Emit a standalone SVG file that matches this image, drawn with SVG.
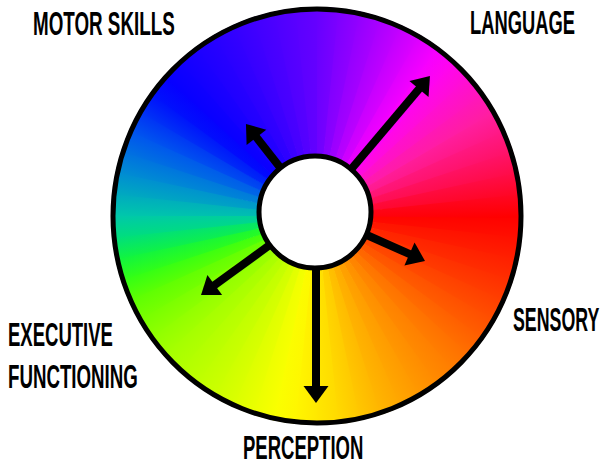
<svg xmlns="http://www.w3.org/2000/svg" width="605" height="467" viewBox="0 0 605 467">
<style>
.lbl{font-family:"Liberation Sans",Arial,sans-serif;font-weight:bold;font-size:33px;fill:#000}
.arr{stroke:#000;stroke-width:8;fill:none;marker-end:url(#ah)}
</style>
<defs>
<path id="w" d="M0,0L209,0A209,209 0 0 1 207.61,24.02Z"/>
<linearGradient id="b" gradientUnits="userSpaceOnUse" x1="209" y1="0" x2="207.85" y2="21.85"/>
<linearGradient id="g0" href="#b"><stop stop-color="#ff0000"/><stop offset="1" stop-color="#ff0f00"/></linearGradient>
<linearGradient id="g1" href="#b"><stop stop-color="#ff0f00"/><stop offset="1" stop-color="#ff1f00"/></linearGradient>
<linearGradient id="g2" href="#b"><stop stop-color="#ff1f00"/><stop offset="1" stop-color="#ff2e00"/></linearGradient>
<linearGradient id="g3" href="#b"><stop stop-color="#ff2e00"/><stop offset="1" stop-color="#ff3e00"/></linearGradient>
<linearGradient id="g4" href="#b"><stop stop-color="#ff3e00"/><stop offset="1" stop-color="#ff4e00"/></linearGradient>
<linearGradient id="g5" href="#b"><stop stop-color="#ff4e00"/><stop offset="1" stop-color="#ff5e00"/></linearGradient>
<linearGradient id="g6" href="#b"><stop stop-color="#ff5e00"/><stop offset="1" stop-color="#ff6f00"/></linearGradient>
<linearGradient id="g7" href="#b"><stop stop-color="#ff6f00"/><stop offset="1" stop-color="#ff7e00"/></linearGradient>
<linearGradient id="g8" href="#b"><stop stop-color="#ff7e00"/><stop offset="1" stop-color="#ff8b00"/></linearGradient>
<linearGradient id="g9" href="#b"><stop stop-color="#ff8b00"/><stop offset="1" stop-color="#ff9900"/></linearGradient>
<linearGradient id="g10" href="#b"><stop stop-color="#ff9900"/><stop offset="1" stop-color="#ffa700"/></linearGradient>
<linearGradient id="g11" href="#b"><stop stop-color="#ffa700"/><stop offset="1" stop-color="#ffb600"/></linearGradient>
<linearGradient id="g12" href="#b"><stop stop-color="#ffb600"/><stop offset="1" stop-color="#ffc800"/></linearGradient>
<linearGradient id="g13" href="#b"><stop stop-color="#ffc800"/><stop offset="1" stop-color="#ffda00"/></linearGradient>
<linearGradient id="g14" href="#b"><stop stop-color="#ffda00"/><stop offset="1" stop-color="#ffe800"/></linearGradient>
<linearGradient id="g15" href="#b"><stop stop-color="#ffe800"/><stop offset="1" stop-color="#fff600"/></linearGradient>
<linearGradient id="g16" href="#b"><stop stop-color="#fff600"/><stop offset="1" stop-color="#faff00"/></linearGradient>
<linearGradient id="g17" href="#b"><stop stop-color="#faff00"/><stop offset="1" stop-color="#ebff00"/></linearGradient>
<linearGradient id="g18" href="#b"><stop stop-color="#ebff00"/><stop offset="1" stop-color="#dbff00"/></linearGradient>
<linearGradient id="g19" href="#b"><stop stop-color="#dbff00"/><stop offset="1" stop-color="#ccff00"/></linearGradient>
<linearGradient id="g20" href="#b"><stop stop-color="#ccff00"/><stop offset="1" stop-color="#bfff00"/></linearGradient>
<linearGradient id="g21" href="#b"><stop stop-color="#bfff00"/><stop offset="1" stop-color="#b2ff00"/></linearGradient>
<linearGradient id="g22" href="#b"><stop stop-color="#b2ff00"/><stop offset="1" stop-color="#a4ff00"/></linearGradient>
<linearGradient id="g23" href="#b"><stop stop-color="#a4ff00"/><stop offset="1" stop-color="#90ff00"/></linearGradient>
<linearGradient id="g24" href="#b"><stop stop-color="#90ff00"/><stop offset="1" stop-color="#78ff00"/></linearGradient>
<linearGradient id="g25" href="#b"><stop stop-color="#78ff00"/><stop offset="1" stop-color="#5dff03"/></linearGradient>
<linearGradient id="g26" href="#b"><stop stop-color="#5dff03"/><stop offset="1" stop-color="#33ff15"/></linearGradient>
<linearGradient id="g27" href="#b"><stop stop-color="#33ff15"/><stop offset="1" stop-color="#11f440"/></linearGradient>
<linearGradient id="g28" href="#b"><stop stop-color="#11f440"/><stop offset="1" stop-color="#00de7d"/></linearGradient>
<linearGradient id="g29" href="#b"><stop stop-color="#00de7d"/><stop offset="1" stop-color="#00c8aa"/></linearGradient>
<linearGradient id="g30" href="#b"><stop stop-color="#00c8aa"/><stop offset="1" stop-color="#00aabf"/></linearGradient>
<linearGradient id="g31" href="#b"><stop stop-color="#00aabf"/><stop offset="1" stop-color="#008dd2"/></linearGradient>
<linearGradient id="g32" href="#b"><stop stop-color="#008dd2"/><stop offset="1" stop-color="#0071e0"/></linearGradient>
<linearGradient id="g33" href="#b"><stop stop-color="#0071e0"/><stop offset="1" stop-color="#0055ee"/></linearGradient>
<linearGradient id="g34" href="#b"><stop stop-color="#0055ee"/><stop offset="1" stop-color="#0033f5"/></linearGradient>
<linearGradient id="g35" href="#b"><stop stop-color="#0033f5"/><stop offset="1" stop-color="#0011fc"/></linearGradient>
<linearGradient id="g36" href="#b"><stop stop-color="#0011fc"/><stop offset="1" stop-color="#0600ff"/></linearGradient>
<linearGradient id="g37" href="#b"><stop stop-color="#0600ff"/><stop offset="1" stop-color="#1100ff"/></linearGradient>
<linearGradient id="g38" href="#b"><stop stop-color="#1100ff"/><stop offset="1" stop-color="#1d00ff"/></linearGradient>
<linearGradient id="g39" href="#b"><stop stop-color="#1d00ff"/><stop offset="1" stop-color="#2800ff"/></linearGradient>
<linearGradient id="g40" href="#b"><stop stop-color="#2800ff"/><stop offset="1" stop-color="#3400ff"/></linearGradient>
<linearGradient id="g41" href="#b"><stop stop-color="#3400ff"/><stop offset="1" stop-color="#4100ff"/></linearGradient>
<linearGradient id="g42" href="#b"><stop stop-color="#4100ff"/><stop offset="1" stop-color="#4d00ff"/></linearGradient>
<linearGradient id="g43" href="#b"><stop stop-color="#4d00ff"/><stop offset="1" stop-color="#5a00ff"/></linearGradient>
<linearGradient id="g44" href="#b"><stop stop-color="#5a00ff"/><stop offset="1" stop-color="#6600ff"/></linearGradient>
<linearGradient id="g45" href="#b"><stop stop-color="#6600ff"/><stop offset="1" stop-color="#7c00ff"/></linearGradient>
<linearGradient id="g46" href="#b"><stop stop-color="#7c00ff"/><stop offset="1" stop-color="#9200ff"/></linearGradient>
<linearGradient id="g47" href="#b"><stop stop-color="#9200ff"/><stop offset="1" stop-color="#a900ff"/></linearGradient>
<linearGradient id="g48" href="#b"><stop stop-color="#a900ff"/><stop offset="1" stop-color="#c200ff"/></linearGradient>
<linearGradient id="g49" href="#b"><stop stop-color="#c200ff"/><stop offset="1" stop-color="#dc00ff"/></linearGradient>
<linearGradient id="g50" href="#b"><stop stop-color="#dc00ff"/><stop offset="1" stop-color="#f600ff"/></linearGradient>
<linearGradient id="g51" href="#b"><stop stop-color="#f600ff"/><stop offset="1" stop-color="#ff05ee"/></linearGradient>
<linearGradient id="g52" href="#b"><stop stop-color="#ff05ee"/><stop offset="1" stop-color="#ff0ed4"/></linearGradient>
<linearGradient id="g53" href="#b"><stop stop-color="#ff0ed4"/><stop offset="1" stop-color="#ff16ba"/></linearGradient>
<linearGradient id="g54" href="#b"><stop stop-color="#ff16ba"/><stop offset="1" stop-color="#ff1ea0"/></linearGradient>
<linearGradient id="g55" href="#b"><stop stop-color="#ff1ea0"/><stop offset="1" stop-color="#ff1884"/></linearGradient>
<linearGradient id="g56" href="#b"><stop stop-color="#ff1884"/><stop offset="1" stop-color="#ff1268"/></linearGradient>
<linearGradient id="g57" href="#b"><stop stop-color="#ff1268"/><stop offset="1" stop-color="#ff0c48"/></linearGradient>
<linearGradient id="g58" href="#b"><stop stop-color="#ff0c48"/><stop offset="1" stop-color="#ff0624"/></linearGradient>
<linearGradient id="g59" href="#b"><stop stop-color="#ff0624"/><stop offset="1" stop-color="#ff0000"/></linearGradient>
<marker id="ah" markerUnits="userSpaceOnUse" markerWidth="30" markerHeight="30" refX="0" refY="0" orient="auto" overflow="visible">
<path d="M8,0L-9,-12.5L-9,12.5Z" fill="#000"/>
</marker>
</defs>

<g id="wheel">
<g transform="translate(317,216) scale(0.985,1)">
<use href="#w" transform="rotate(0)" fill="url(#g0)"/>
<use href="#w" transform="rotate(6)" fill="url(#g1)"/>
<use href="#w" transform="rotate(12)" fill="url(#g2)"/>
<use href="#w" transform="rotate(18)" fill="url(#g3)"/>
<use href="#w" transform="rotate(24)" fill="url(#g4)"/>
<use href="#w" transform="rotate(30)" fill="url(#g5)"/>
<use href="#w" transform="rotate(36)" fill="url(#g6)"/>
<use href="#w" transform="rotate(42)" fill="url(#g7)"/>
<use href="#w" transform="rotate(48)" fill="url(#g8)"/>
<use href="#w" transform="rotate(54)" fill="url(#g9)"/>
<use href="#w" transform="rotate(60)" fill="url(#g10)"/>
<use href="#w" transform="rotate(66)" fill="url(#g11)"/>
<use href="#w" transform="rotate(72)" fill="url(#g12)"/>
<use href="#w" transform="rotate(78)" fill="url(#g13)"/>
<use href="#w" transform="rotate(84)" fill="url(#g14)"/>
<use href="#w" transform="rotate(90)" fill="url(#g15)"/>
<use href="#w" transform="rotate(96)" fill="url(#g16)"/>
<use href="#w" transform="rotate(102)" fill="url(#g17)"/>
<use href="#w" transform="rotate(108)" fill="url(#g18)"/>
<use href="#w" transform="rotate(114)" fill="url(#g19)"/>
<use href="#w" transform="rotate(120)" fill="url(#g20)"/>
<use href="#w" transform="rotate(126)" fill="url(#g21)"/>
<use href="#w" transform="rotate(132)" fill="url(#g22)"/>
<use href="#w" transform="rotate(138)" fill="url(#g23)"/>
<use href="#w" transform="rotate(144)" fill="url(#g24)"/>
<use href="#w" transform="rotate(150)" fill="url(#g25)"/>
<use href="#w" transform="rotate(156)" fill="url(#g26)"/>
<use href="#w" transform="rotate(162)" fill="url(#g27)"/>
<use href="#w" transform="rotate(168)" fill="url(#g28)"/>
<use href="#w" transform="rotate(174)" fill="url(#g29)"/>
<use href="#w" transform="rotate(180)" fill="url(#g30)"/>
<use href="#w" transform="rotate(186)" fill="url(#g31)"/>
<use href="#w" transform="rotate(192)" fill="url(#g32)"/>
<use href="#w" transform="rotate(198)" fill="url(#g33)"/>
<use href="#w" transform="rotate(204)" fill="url(#g34)"/>
<use href="#w" transform="rotate(210)" fill="url(#g35)"/>
<use href="#w" transform="rotate(216)" fill="url(#g36)"/>
<use href="#w" transform="rotate(222)" fill="url(#g37)"/>
<use href="#w" transform="rotate(228)" fill="url(#g38)"/>
<use href="#w" transform="rotate(234)" fill="url(#g39)"/>
<use href="#w" transform="rotate(240)" fill="url(#g40)"/>
<use href="#w" transform="rotate(246)" fill="url(#g41)"/>
<use href="#w" transform="rotate(252)" fill="url(#g42)"/>
<use href="#w" transform="rotate(258)" fill="url(#g43)"/>
<use href="#w" transform="rotate(264)" fill="url(#g44)"/>
<use href="#w" transform="rotate(270)" fill="url(#g45)"/>
<use href="#w" transform="rotate(276)" fill="url(#g46)"/>
<use href="#w" transform="rotate(282)" fill="url(#g47)"/>
<use href="#w" transform="rotate(288)" fill="url(#g48)"/>
<use href="#w" transform="rotate(294)" fill="url(#g49)"/>
<use href="#w" transform="rotate(300)" fill="url(#g50)"/>
<use href="#w" transform="rotate(306)" fill="url(#g51)"/>
<use href="#w" transform="rotate(312)" fill="url(#g52)"/>
<use href="#w" transform="rotate(318)" fill="url(#g53)"/>
<use href="#w" transform="rotate(324)" fill="url(#g54)"/>
<use href="#w" transform="rotate(330)" fill="url(#g55)"/>
<use href="#w" transform="rotate(336)" fill="url(#g56)"/>
<use href="#w" transform="rotate(342)" fill="url(#g57)"/>
<use href="#w" transform="rotate(348)" fill="url(#g58)"/>
<use href="#w" transform="rotate(354)" fill="url(#g59)"/>
</g>
<ellipse cx="317" cy="216" rx="204" ry="207" fill="none" stroke="#000" stroke-width="5"/>
</g>

<g id="connectors">
<line class="arr" x1="315" y1="212" x2="424.8" y2="82.1"/>
<line class="arr" x1="315" y1="212" x2="250.9" y2="130.3"/>
<line class="arr" x1="315" y1="212" x2="417.7" y2="257.7"/>
<line class="arr" x1="315" y1="212" x2="207.5" y2="290.3"/>
<line class="arr" x1="316" y1="212" x2="316" y2="395"/>
</g>

<g id="hub">
<circle cx="315" cy="212" r="56" fill="#fff" stroke="#000" stroke-width="5"/>
</g>

<g id="motor-skills"><text class="lbl" transform="translate(33,35) scale(0.570,1)">MOTOR SKILLS</text></g>
<g id="language"><text class="lbl" transform="translate(470,34) scale(0.556,1)">LANGUAGE</text></g>
<g id="sensory"><text class="lbl" transform="translate(513,331) scale(0.539,1)">SENSORY</text></g>
<g id="executive-functioning">
<text class="lbl" transform="translate(8,346) scale(0.561,1)">EXECUTIVE</text>
<text class="lbl" transform="translate(8,388) scale(0.567,1)">FUNCTIONING</text>
</g>
<g id="perception"><text class="lbl" transform="translate(243,459) scale(0.561,1)">PERCEPTION</text></g>
</svg>
